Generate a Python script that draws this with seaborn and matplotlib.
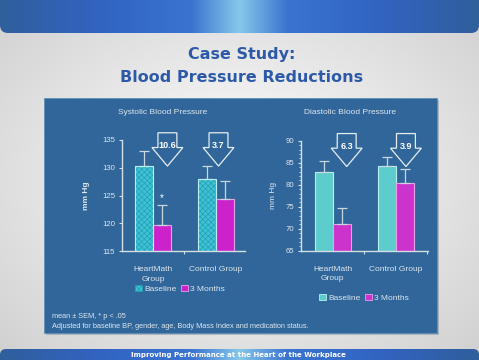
"""
Case Study: Blood Pressure Reductions
Systolic / diastolic bars, baseline vs 3 months, on a slide background
"""
import numpy as np
import pandas as pd
import matplotlib
matplotlib.use('Agg')
import matplotlib.pyplot as plt
import seaborn as sns
from matplotlib import transforms
from matplotlib.colors import LinearSegmentedColormap
from matplotlib.patches import Polygon, Rectangle, FancyBboxPatch, Patch
from matplotlib.ticker import MultipleLocator

# Data
groups = ['HeartMath\nGroup', 'Control Group']
periods = ['Baseline', '3 Months']

sys_baseline = [130.3, 128.0]
sys_3months = [119.7, 124.3]
sys_sem_baseline = [2.7, 2.3]
sys_sem_3months = [3.6, 3.4]
sys_drop = ['10.6', '3.7']

dia_baseline = [83.0, 84.2]
dia_3months = [71.1, 80.3]
dia_sem_baseline = [2.4, 2.0]
dia_sem_3months = [3.5, 3.3]
dia_drop = ['6.3', '3.9']

W, H = 479, 360
PANEL = '#31669a'
LIGHT = '#dde6ee'
AXIS = '#d4e0e6'

sns.set_theme(style='white')
plt.rcParams['font.family'] = ['Liberation Sans', 'DejaVu Sans']
plt.rcParams['hatch.linewidth'] = 0.5

fig = plt.figure(figsize=(W / 100, H / 100), dpi=100)

# ---------------------------------------------------------------------------
# Slide background
# ---------------------------------------------------------------------------
bg = fig.add_axes([0, 0, 1, 1])
bg.set_xlim(0, W)
bg.set_ylim(H, 0)
bg.axis('off')

xx, yy = np.meshgrid(np.linspace(-1, 1, 200), np.linspace(-1, 1, 150))
shade = 1 - 0.13 * np.sqrt(xx ** 2 + yy ** 2)
bg.imshow(np.dstack([shade] * 3), extent=[0, W, H, 0], aspect='auto', zorder=0)

banner_cmap = LinearSegmentedColormap.from_list('banner', [
    (0.0, '#2f5f9c'), (0.22, '#3264c4'), (0.40, '#3a74d0'),
    (0.50, '#86c8ea'), (0.60, '#3a74d0'), (0.78, '#3264c4'), (1.0, '#2f5f9c')])
grad = np.linspace(0, 1, 256)[None, :]

top = FancyBboxPatch((0, -20), W, 53, boxstyle='round,pad=0,rounding_size=8',
                     lw=0, fc='none', zorder=1)
bg.add_patch(top)
im = bg.imshow(grad, cmap=banner_cmap, extent=[0, W, 33, -20], aspect='auto', zorder=1)
im.set_clip_path(top)

bottom = FancyBboxPatch((0, 349), W, 30, boxstyle='round,pad=0,rounding_size=6',
                        lw=0, fc='none', zorder=1)
bg.add_patch(bottom)
im2 = bg.imshow(grad, cmap=banner_cmap, extent=[0, W, 379, 349], aspect='auto', zorder=1)
im2.set_clip_path(bottom)

bg.add_patch(Rectangle((46, 100), 393, 235, fc='#8a9aa4', alpha=0.6, lw=0, zorder=1))
bg.add_patch(Rectangle((44, 98), 393, 235, fc=PANEL, ec='#5f8fb4', lw=0.6, zorder=2))

bg.text(242, 54, 'Case Study:', ha='center', va='center', fontsize=11.5,
        fontweight='bold', color='#2c5aa8', family='DejaVu Sans', zorder=3)
bg.text(242, 77, 'Blood Pressure Reductions', ha='center', va='center', fontsize=11.5,
        fontweight='bold', color='#2c5aa8', family='DejaVu Sans', zorder=3)
bg.text(238, 355, 'Improving Performance at the Heart of the Workplace', ha='center',
        va='center', fontsize=5, fontweight='bold', color='white',
        family='DejaVu Sans', zorder=3)

bg.text(163, 112, 'Systolic Blood Pressure', ha='center', va='center', fontsize=6,
        color=LIGHT, zorder=3)
bg.text(350, 112, 'Diastolic Blood Pressure', ha='center', va='center', fontsize=6,
        color=LIGHT, zorder=3)
bg.text(52, 317, 'mean \u00b1 SEM, * p < .05', ha='left', va='center', fontsize=5.3,
        color=LIGHT, zorder=3)
bg.text(52, 326.5, 'Adjusted for baseline BP, gender, age, Body Mass Index and medication status.',
        ha='left', va='center', fontsize=5.3, color=LIGHT, zorder=3)


def px_axes(x0, y0, x1, y1):
    return fig.add_axes([x0 / W, 1 - y1 / H, (x1 - x0) / W, (y1 - y0) / H])


def draw_chart(ax, base, later, sem_b, sem_l, drops, colors, edges, ylim, ystep,
               xlim, arrow_x, hatched, ylabel_x, bold_label, legend_xy):
    df = pd.DataFrame({
        'group': groups * 2,
        'period': [periods[0]] * 2 + [periods[1]] * 2,
        'mmHg': base + later,
    })
    sns.barplot(data=df, x='group', y='mmHg', hue='period', palette=colors,
                width=0.57, saturation=1, errorbar=None, legend=False,
                linewidth=0.8, ax=ax)
    ax.set_facecolor('none')

    for cont, ec, sems in zip(ax.containers, edges, [sem_b, sem_l]):
        for bar, s in zip(cont, sems):
            bar.set_edgecolor(ec)
            cx = bar.get_x() + bar.get_width() / 2
            ax.errorbar(cx, bar.get_height(), yerr=[[0], [s]], color='#c8d6de',
                        lw=0.9, capsize=3.5, capthick=0.9, zorder=1)
    if hatched:
        for bar in ax.containers[0]:
            bar.set_hatch('xxxxxx')
            bar.set_edgecolor('#2a9cb4')
            bar.set_linewidth(0)
            ax.add_patch(Rectangle((bar.get_x(), bar.get_y()), bar.get_width(),
                                   bar.get_height(), fill=False, ec=edges[0], lw=0.8))

    ax.set_ylim(*ylim)
    ax.set_xlim(*xlim)
    ax.set_yticks(np.arange(ylim[0], ylim[1] + 1, 5))
    if ystep:
        ax.yaxis.set_minor_locator(MultipleLocator(ystep))
    ax.set_xticks([0, 1])
    ax.set_xticklabels(groups, linespacing=1.5)
    ax.xaxis.set_minor_locator(matplotlib.ticker.FixedLocator([0.5, 1.5]))
    ax.set_xlabel('')
    ax.set_ylabel('mm Hg', fontsize=6, color=LIGHT,
                  fontweight='bold' if bold_label else 'normal')
    ax.yaxis.set_label_coords(ylabel_x, 0.5)

    for side in ['top', 'right']:
        ax.spines[side].set_visible(False)
    for side in ['left', 'bottom']:
        ax.spines[side].set_color(AXIS)
        ax.spines[side].set_linewidth(1)
    ax.tick_params(axis='y', which='major', left=True, direction='out', length=2.5,
                   width=0.8, color=AXIS, labelcolor=LIGHT, labelsize=5.6, pad=2.5)
    ax.tick_params(axis='y', which='minor', left=True, direction='out', length=1.5,
                   width=0.6, color=AXIS)
    ax.tick_params(axis='x', which='major', bottom=False, labelcolor=LIGHT,
                   labelsize=6, pad=5)
    ax.tick_params(axis='x', which='minor', bottom=True, direction='out', length=2.5,
                   width=0.8, color=AXIS)

    # hollow "reduction" arrows
    trans = transforms.blended_transform_factory(ax.transData, ax.transAxes)
    hw, sw = 0.49, 0.30
    y_top, y_neck, y_tip = 1.065, 0.932, 0.765
    for cx, label in zip(arrow_x, drops):
        pts = [(cx - sw / 2, y_top), (cx + sw / 2, y_top), (cx + sw / 2, y_neck),
               (cx + hw / 2, y_neck), (cx, y_tip), (cx - hw / 2, y_neck),
               (cx - sw / 2, y_neck)]
        ax.add_patch(Polygon(pts, closed=True, transform=trans, fc='none',
                             ec='#e6eef0', lw=0.9, clip_on=False, zorder=4))
        ax.text(cx, 0.95, label, transform=trans, ha='center', va='center',
                color='white', fontsize=6.5, fontweight='bold', zorder=5)

    handles = [Patch(fc=colors[0], ec=edges[0], lw=0.6, hatch='xxxxxx' if hatched else None),
               Patch(fc=colors[1], ec=edges[1], lw=0.6)]
    if hatched:
        handles[0].set_edgecolor('#2a9cb4')
    ax.legend(handles, periods, loc='center', ncol=2, frameon=False, fontsize=6,
              labelcolor=LIGHT, handlelength=0.8, handleheight=0.8,
              handletextpad=0.25, columnspacing=0.6,
              bbox_to_anchor=(legend_xy[0] / W, 1 - legend_xy[1] / H),
              bbox_transform=fig.transFigure)


ax1 = px_axes(122, 140, 245, 251)
draw_chart(ax1, sys_baseline, sys_3months, sys_sem_baseline, sys_sem_3months, sys_drop,
           colors=['#3ac4d6', '#cc22cc'], edges=['#b8eef4', '#e8a0e8'],
           ylim=(115, 135), ystep=None, xlim=(-0.49, 1.46), arrow_x=[0.23, 1.04],
           hatched=True, ylabel_x=-0.26, bold_label=True, legend_xy=(180, 289))
# significance marker above HeartMath 3-month bar
b = ax1.containers[1][0]
ax1.text(b.get_x() + b.get_width() / 2, sys_3months[0] + sys_sem_3months[0] + 1.2, '*',
         ha='center', va='center', color='white', fontsize=7)

ax2 = px_axes(300.7, 140.7, 428, 250.7)
draw_chart(ax2, dia_baseline, dia_3months, dia_sem_baseline, dia_sem_3months, dia_drop,
           colors=['#5ccccc', '#cc33cc'], edges=['#b8f0f0', '#e8a0e8'],
           ylim=(65, 90), ystep=1, xlim=(-0.51, 1.51), arrow_x=[0.22, 1.16],
           hatched=False, ylabel_x=-0.186, bold_label=False, legend_xy=(364, 298))

fig.savefig('out.png', dpi=100)
